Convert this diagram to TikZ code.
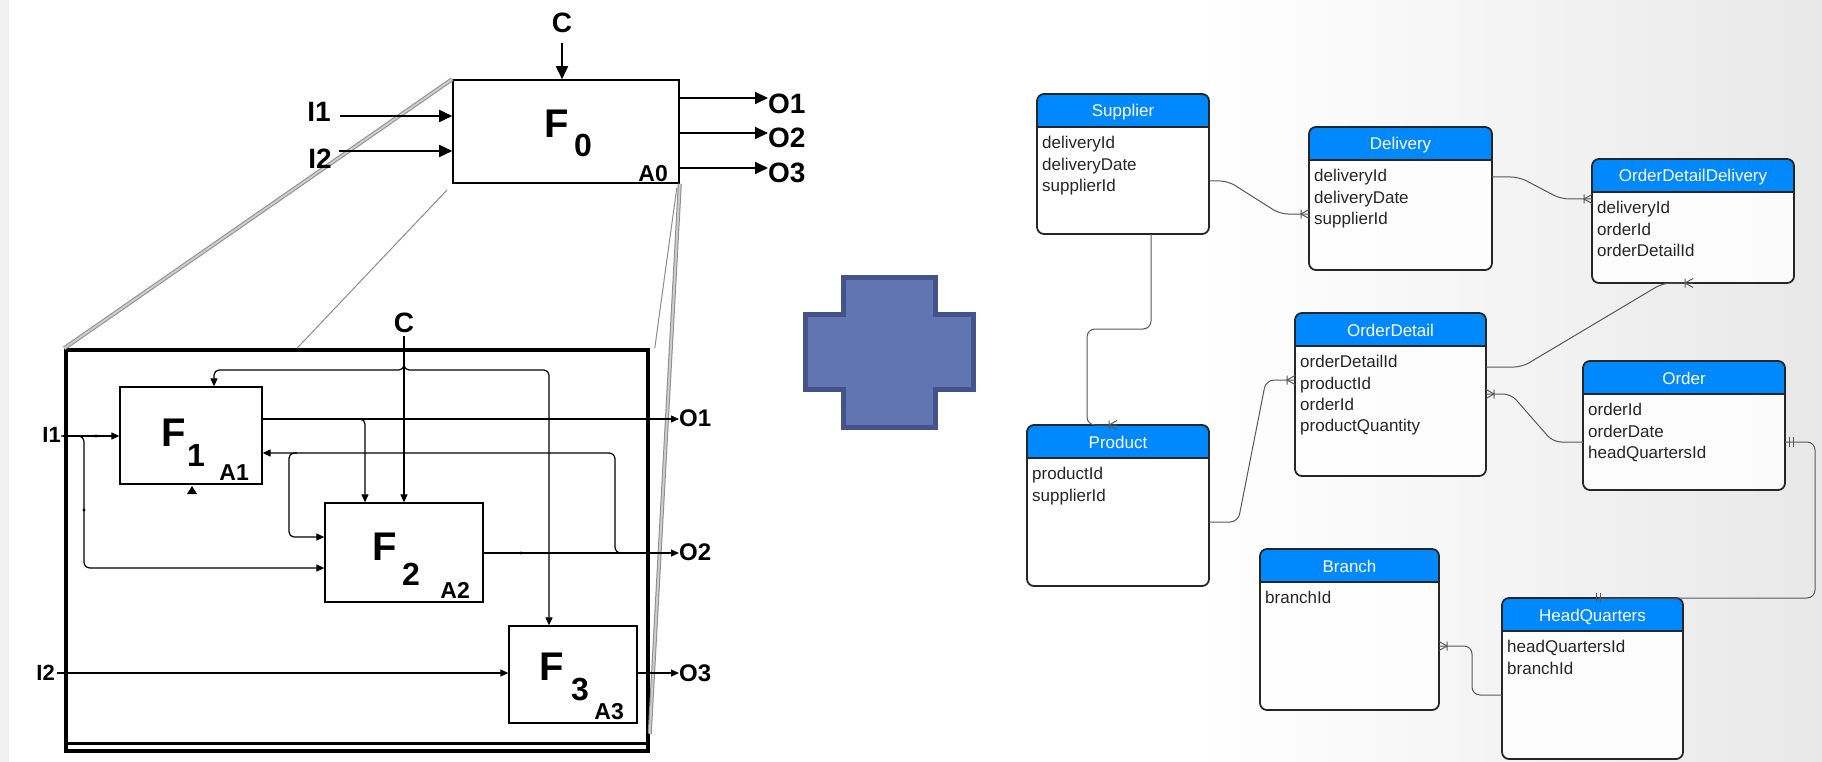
\documentclass[tikz,border=0pt]{standalone}
\usepackage{fontspec}
\setmainfont{Liberation Sans}
\usepackage{tikz}
\usetikzlibrary{arrows.meta,positioning}

\definecolor{headblue}{RGB}{0,136,255}
\definecolor{plusfill}{RGB}{96,117,178}
\definecolor{plusedge}{RGB}{68,84,138}
\definecolor{linkgray}{RGB}{88,88,88}

\newcommand{\entity}[6]{%
    \node[erbody, minimum width=#3pt, minimum height=#4pt] (#1) at (#2) {};
    \begin{scope}
        \clip[rounded corners=7pt] (#1.north west) rectangle (#1.south east);
        \fill[headblue] (#1.north west) rectangle ([yshift=-33pt]#1.north east);
    \end{scope}
    \draw[erframe] ([yshift=-33pt]#1.north west) -- ([yshift=-33pt]#1.north east);
    \draw[erframe, rounded corners=7pt] (#1.north west) rectangle (#1.south east);
    \node[ertitle] (#1-title) at ([yshift=-23pt]#1.north) {#5};
    \node[erfields] (#1-fields) at ([xshift=5pt,yshift=-42.3pt]#1.north west) {#6};
}

\begin{document}
\begin{tikzpicture}[x=1pt,y=-1pt,
    barrow/.style={-{Triangle[length=13pt,width=12pt]},line width=1.8pt},
    sarrow/.style={-{Triangle[length=8pt,width=7pt]},line width=1.2pt}]
    \tikzset{
        idbox/.style={draw,line width=1.6pt,inner sep=0pt},
        subbox/.style={draw,line width=1.3pt,inner sep=0pt},
        frame/.style={draw,line width=3.5pt,inner sep=0pt},
        bigtxt/.style={inner sep=0pt,font=\bfseries\fontsize{28}{28}\selectfont},
        outtxt/.style={inner sep=0pt,font=\bfseries\fontsize{24}{24}\selectfont},
        intxt/.style={inner sep=0pt,font=\bfseries\fontsize{22}{22}\selectfont},
        fletter/.style={inner sep=0pt,font=\bfseries\fontsize{40}{40}\selectfont},
        fdigit/.style={inner sep=0pt,font=\bfseries\fontsize{32}{32}\selectfont},
        fref/.style={inner sep=0pt,anchor=base east,font=\bfseries\fontsize{23}{23}\selectfont},
        zoomline/.style={draw=black!45,double=black!20,double distance=2pt,line width=1pt},
        zoomthin/.style={draw=black!45,line width=1pt},
        plusshape/.style={fill=plusfill,draw=plusedge,line width=5pt,line join=miter},
        erbody/.style={anchor=north west,fill=white,fill opacity=0.85,rounded corners=7pt,inner sep=0pt,outer sep=0pt},
        erframe/.style={draw=black!85,line width=1.8pt},
        ertitle/.style={anchor=base,inner sep=0pt,text=white,font=\fontsize{17}{20}\selectfont},
        erfields/.style={anchor=north west,align=left,inner sep=0pt,text=black!85,font=\fontsize{17}{21.3}\selectfont},
        erlink/.style={draw=linkgray,line width=1pt,rounded corners=8pt},
        crowfoot/.pic={\draw[erlink,sharp corners] (-8,-4.5) -- (-8,4.5) (0,-4.5) -- (-8,0) -- (0,4.5);},
        onlyone/.pic={\draw[erlink,sharp corners] (-2,-5) -- (-2,5) (2,-5) -- (2,5);}
    }
    \useasboundingbox (0,0) rectangle (1822,762);
    \fill[white] (0,0) rectangle (1822,762);
    \shade[left color=white,right color=black!9] (1200,0) rectangle (1822,762);
    \fill[black!6] (0,0) rectangle (9,762);

    \node[idbox,minimum width=226pt,minimum height=103pt] (f0) at (566,131.5) {};
    \node[frame,minimum width=582pt,minimum height=401pt] (frm) at (357,550.5) {};
    \draw[line width=3pt] ([yshift=9pt]frm.south west) -- ([yshift=9pt]frm.south east);

    \draw[zoomline] (f0.north west) -- (frm.north west);
    \draw[zoomthin] ([xshift=-5pt,yshift=-6pt]f0.south west) -- (297,0 |- frm.north);
    \draw[zoomline] (f0.south east) -- ([yshift=19pt]frm.south east);
    \draw[zoomthin] ([xshift=-3pt,yshift=-4pt]f0.south east) -- ([xshift=5pt]frm.north east);

    \node[fletter] (f0-F) at (557,124) {F};
    \node[fdigit] (f0-n) at (583,145) {0};
    \node[fref] (f0-a) at (668,182) {A0};
    \node[bigtxt] (c0) at (562,23) {C};
    \node[bigtxt,anchor=east] (i1) at (331,112) {I1};
    \node[bigtxt,anchor=east] (i2) at (332,159) {I2};
    \node[bigtxt,anchor=west] (o1) at (768,104) {O1};
    \node[bigtxt,anchor=west] (o2) at (768,138) {O2};
    \node[bigtxt,anchor=west] (o3) at (768,173) {O3};
    \draw[barrow,shorten <=10pt] (c0.south) -- (c0.south |- f0.north);
    \draw[barrow,shorten <=9pt] (i1.east |- 0,116) -- (f0.west |- 0,116);
    \draw[barrow,shorten <=7pt] (i2.east |- 0,151) -- (f0.west |- 0,151);
    \draw[barrow] (f0.east |- 0,98) -- (o1.west |- 0,98);
    \draw[barrow] (f0.east |- 0,133) -- (o2.west |- 0,133);
    \draw[barrow] (f0.east |- 0,168) -- (o3.west |- 0,168);

    \node[subbox,minimum width=142pt,minimum height=97pt] (f1) at (191,435.5) {};
    \node[subbox,minimum width=158pt,minimum height=99pt] (f2) at (404,552.5) {};
    \node[subbox,minimum width=128pt,minimum height=97pt] (f3) at (573,674.5) {};
    \node[fletter] (f1-F) at (174,433) {F};
    \node[fdigit] (f1-n) at (196,455) {1};
    \node[fref] (f1-a) at (249,480) {A1};
    \node[fletter] (f2-F) at (385,547) {F};
    \node[fdigit] (f2-n) at (411,574) {2};
    \node[fref] (f2-a) at (470,598) {A2};
    \node[fletter] (f3-F) at (552,667) {F};
    \node[fdigit] (f3-n) at (580,690) {3};
    \node[fref] (f3-a) at (624,719) {A3};
    \node[bigtxt] (c1) at (404,323) {C};
    \node[intxt,anchor=east] (i1b) at (61,435) {I1};
    \node[intxt,anchor=east] (i2b) at (55,673) {I2};
    \node[outtxt,anchor=west] (o1b) at (679,418) {O1};
    \node[outtxt,anchor=west] (o2b) at (679,552) {O2};
    \node[outtxt,anchor=west] (o3b) at (679,673) {O3};

    \draw[sarrow,shorten <=2pt] (i1b.east |- 0,436) -- (f1.west |- 0,436);
    \draw[sarrow,rounded corners=6pt] (i1b.east |- 0,436) -| (84,568) -- (f2.west |- 0,568);
    \draw[sarrow] (f1.east |- 0,419) -- (o1b.west |- 0,419);
    \draw[sarrow,rounded corners=5pt] (355,419) -| (365,0 |- f2.north);
    \draw[sarrow,shorten <=3pt] (c1.south) -- (c1.south |- f2.north);
    \draw[sarrow,rounded corners=5pt] (c1.south |- 0,358) |- (214,370) -- (214,0 |- f1.north);
    \draw[sarrow,rounded corners=5pt] (c1.south |- 0,358) |- (549,370) -- (549,0 |- f3.north);
    \draw[sarrow] (f2.east |- 0,553) -- (o2b.west |- 0,553);
    \draw[sarrow,rounded corners=6pt] (630,553) -| (615,453) -- (f1.east |- 0,453);
    \draw[sarrow,rounded corners=5pt] (297,453) -| (289,537) -- (f2.west |- 0,537);
    \draw[sarrow,shorten <=2pt] (i2b.east) -- (i2b.east -| f3.west);
    \draw[sarrow] (f3.east |- 0,673) -- (o3b.west |- 0,673);
    \fill (187,494) -- (197,494) -- (192,486) -- cycle;
    \fill (96,436) circle (1.6) (84,510) circle (1.6) (521,553) circle (1.6);

    \draw[plusshape] (843.5,277.5) -- (935.5,277.5) -- (935.5,314.5) -- (973.5,314.5)
        -- (973.5,389.5) -- (935.5,389.5) -- (935.5,427.5) -- (843.5,427.5)
        -- (843.5,389.5) -- (805.5,389.5) -- (805.5,314.5) -- (843.5,314.5) -- cycle;

    \entity{sup}{1037,94}{172}{140}{Supplier}{deliveryId\\deliveryDate\\supplierId}
    \entity{del}{1309,127}{183}{143}{Delivery}{deliveryId\\deliveryDate\\supplierId}
    \entity{odd}{1592,159}{202}{124}{OrderDetailDelivery}{deliveryId\\orderId\\orderDetailId}
    \entity{od}{1295,313}{191}{163}{OrderDetail}{orderDetailId\\productId\\orderId\\productQuantity}
    \entity{ord}{1583,361}{202}{129}{Order}{orderId\\orderDate\\headQuartersId}
    \entity{prod}{1027,425}{182}{161}{Product}{productId\\supplierId}
    \entity{br}{1260,549}{179}{161}{Branch}{branchId}
    \entity{hq}{1502,598}{181}{161}{HeadQuarters}{headQuartersId\\branchId}

    \draw[erlink] (sup.east |- 0,181) -- (1228,181) -- (1280,214) -- (del.west |- 0,214);
    \pic at (del.west |- 0,214) {crowfoot};
    \draw[erlink] (del.east |- 0,177) -- (1519,177) -- (1561,199) -- (odd.west |- 0,199);
    \pic at (odd.west |- 0,199) {crowfoot};
    \draw[erlink] (1151,0 |- sup.south) |- (1087,329) |- (1117,0 |- prod.north);
    \pic at (1117,0 |- prod.north) {crowfoot};
    \draw[erlink] (od.east |- 0,367) -- (1522,367) -- (1663,283) -- (1693,0 |- odd.south);
    \pic at (1693,0 |- odd.south) {crowfoot};
    \draw[erlink] (prod.east |- 0,522) -- (1238,522) -- (1266,380) -- (od.west |- 0,380);
    \pic at (od.west |- 0,380) {crowfoot};
    \draw[erlink] (od.east |- 0,394) -- (1511,394) -- (1553,442) -- (ord.west |- 0,442);
    \pic[rotate=180] at (od.east |- 0,394) {crowfoot};
    \draw[erlink] (ord.east |- 0,442) -| (1815,0 |- hq.north) -- (1598,0 |- hq.north);
    \pic at (1791,442) {onlyone};
    \pic at (1598,0 |- hq.north) {onlyone};
    \draw[erlink] (hq.west |- 0,695) -- (1472,695) -- (1472,646) -- (br.east |- 0,646);
    \pic[rotate=180] at (br.east |- 0,646) {crowfoot};
\end{tikzpicture}
\end{document}
